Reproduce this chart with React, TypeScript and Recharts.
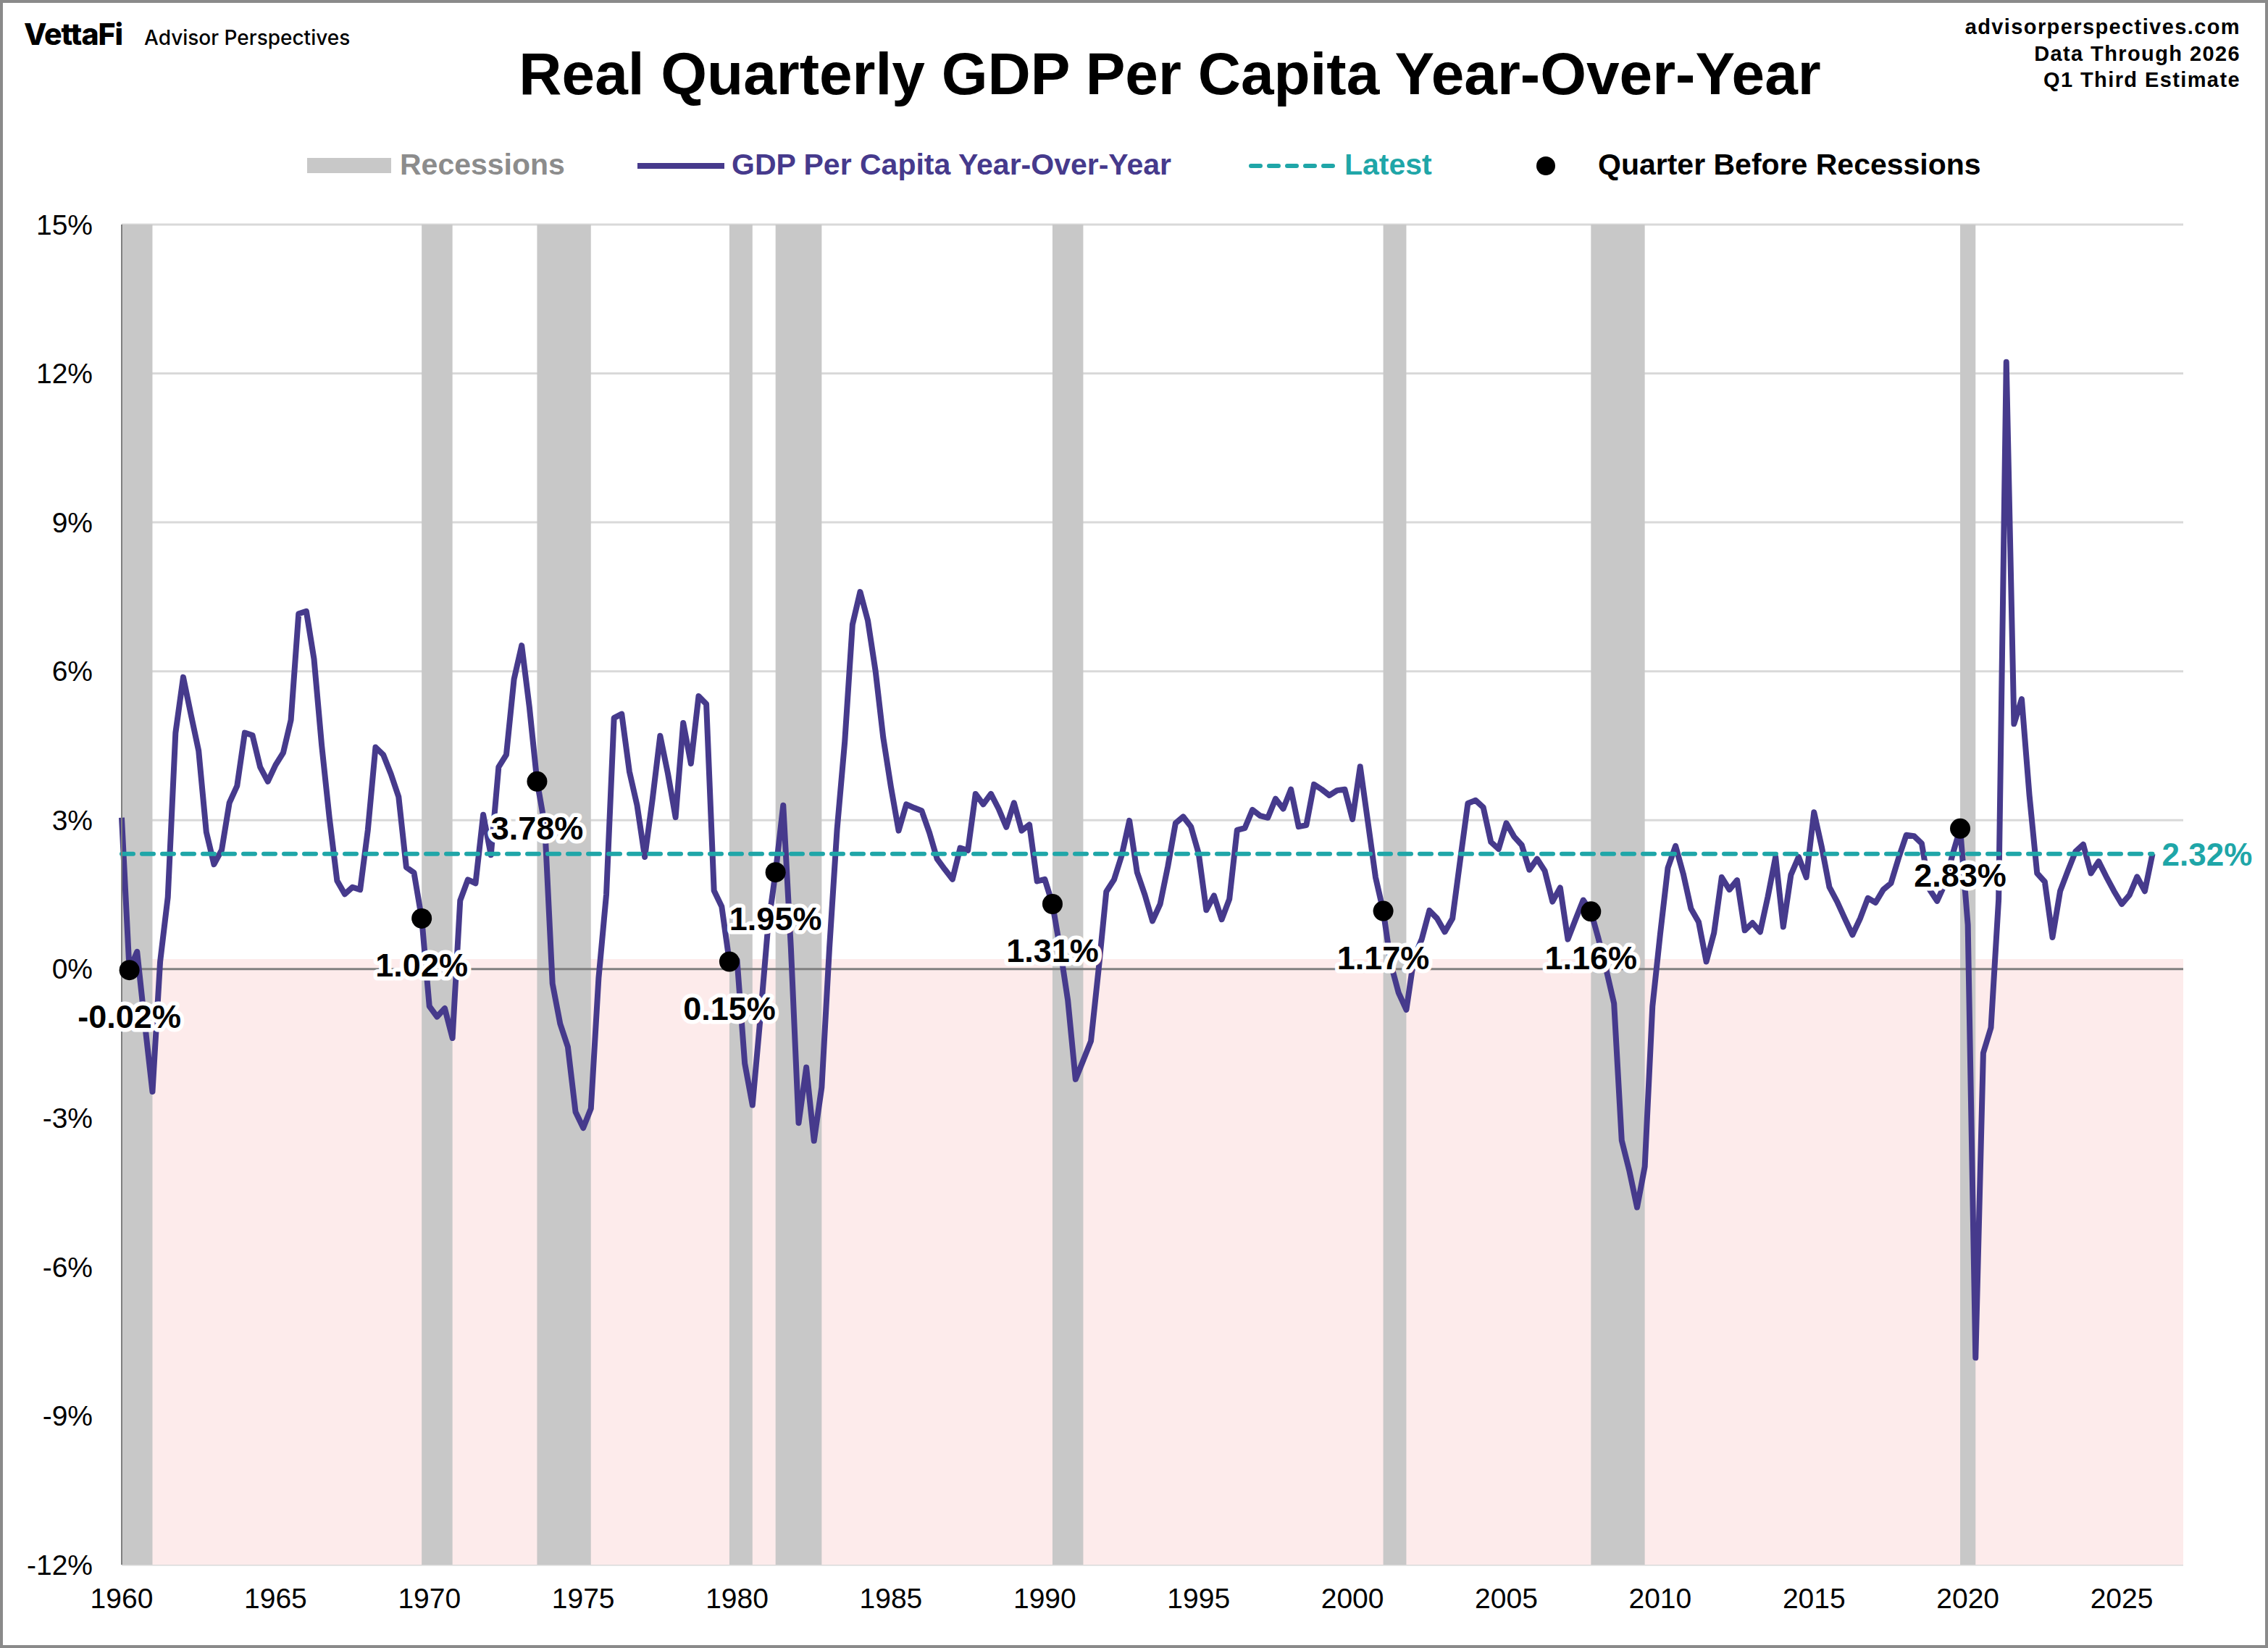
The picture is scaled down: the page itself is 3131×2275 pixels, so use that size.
import { ComposedChart, Line, Scatter, XAxis, YAxis, CartesianGrid, ReferenceArea, ReferenceLine } from 'recharts';

const FONT = '"Liberation Sans", Arial, sans-serif';
const PURPLE = '#463A8C';
const TEAL = '#1FA6A8';
const RECESSION_GRAY = '#C8C8C8';
const PINK = '#FDEBEB';
const GRID = '#D9D9D9';

// first quarter of the series (1960 Q1), one value per quarter
const FIRST_YEAR = 1960;

// real GDP per capita, % change year-over-year
const gdpPerCapitaYoY = [
  3.05, -0.02, 0.35, -1.09, -2.47, 0.15, 1.45, 4.76, // 1960-61
  5.88, 5.13, 4.4, 2.76, 2.11, 2.4, 3.35, 3.69, // 1962-63
  4.76, 4.71, 4.07, 3.78, 4.11, 4.36, 5.02, 7.16, // 1964-65
  7.21, 6.25, 4.51, 3.05, 1.78, 1.51, 1.65, 1.6, // 1966-67
  2.8, 4.47, 4.32, 3.93, 3.47, 2.05, 1.94, 1.02, // 1968-69
  -0.75, -0.96, -0.79, -1.39, 1.38, 1.8, 1.73, 3.11, // 1970-71
  2.3, 4.07, 4.32, 5.84, 6.52, 5.28, 3.78, 2.9, // 1972-73
  -0.29, -1.1, -1.57, -2.88, -3.2, -2.81, -0.18, 1.5, // 1974-75
  5.06, 5.14, 3.98, 3.3, 2.26, 3.42, 4.7, 3.94, // 1976-77
  3.06, 4.96, 4.14, 5.5, 5.34, 1.58, 1.26, 0.15, // 1978-79
  0.18, -1.9, -2.74, -1.02, 0.82, 1.95, 3.3, 0.42, // 1980-81
  -3.1, -1.98, -3.46, -2.38, 0.42, 2.82, 4.58, 6.94, // 1982-83
  7.6, 7.02, 6.0, 4.66, 3.67, 2.79, 3.32, 3.25, // 1984-85
  3.19, 2.75, 2.22, 2.01, 1.81, 2.44, 2.39, 3.53, // 1986-87
  3.32, 3.53, 3.23, 2.86, 3.35, 2.79, 2.91, 1.77, // 1988-89
  1.81, 1.31, 0.4, -0.63, -2.22, -1.84, -1.45, 0.0, // 1990-91
  1.56, 1.8, 2.29, 2.99, 1.95, 1.5, 0.97, 1.31, // 1992-93
  2.07, 2.94, 3.07, 2.87, 2.33, 1.19, 1.48, 1.0, // 1994-95
  1.41, 2.8, 2.84, 3.21, 3.09, 3.05, 3.43, 3.23, // 1996-97
  3.62, 2.87, 2.9, 3.72, 3.62, 3.5, 3.6, 3.62, // 1998-99
  3.02, 4.08, 2.97, 1.85, 1.17, 0.1, -0.48, -0.82, // 2000-01
  0.23, 0.6, 1.18, 1.02, 0.75, 1.02, 2.19, 3.34, // 2002-03
  3.4, 3.26, 2.56, 2.42, 2.94, 2.67, 2.5, 2.0, // 2004-05
  2.22, 1.98, 1.36, 1.64, 0.6, 1.0, 1.39, 1.16, // 2006-07
  0.6, -0.02, -0.69, -3.45, -4.07, -4.8, -3.98, -0.75, // 2008-09
  0.7, 2.04, 2.48, 1.92, 1.22, 0.95, 0.15, 0.73, // 2010-11
  1.85, 1.6, 1.79, 0.78, 0.93, 0.75, 1.46, 2.26, // 2012-13
  0.85, 1.9, 2.26, 1.85, 3.16, 2.46, 1.65, 1.36, // 2014-15
  1.02, 0.69, 1.02, 1.43, 1.34, 1.6, 1.73, 2.24, // 2016-17
  2.7, 2.68, 2.53, 1.61, 1.37, 1.71, 2.3, 2.83, // 2018-19
  0.89, -7.83, -1.69, -1.18, 1.4, 12.23, 4.94, 5.44, // 2020-21
  3.5, 1.93, 1.76, 0.64, 1.57, 1.98, 2.37, 2.51, // 2022-23
  1.93, 2.17, 1.86, 1.57, 1.31, 1.49, 1.86, 1.57, // 2024-25
  2.32, // 2026 Q1
];

// recession spans, in fractional years
const recessions = [
  { start: 1960.0, end: 1961.0 },
  { start: 1969.75, end: 1970.75 },
  { start: 1973.5, end: 1975.25 },
  { start: 1979.75, end: 1980.5 },
  { start: 1981.25, end: 1982.75 },
  { start: 1990.25, end: 1991.25 },
  { start: 2001.0, end: 2001.75 },
  { start: 2007.75, end: 2009.5 },
  { start: 2019.75, end: 2020.25 },
];

const quarterBeforeRecessions = [1960.25, 1969.75, 1973.5, 1979.75, 1981.25, 1990.25, 2001.0, 2007.75, 2019.75];

const yTicks = [-12, -9, -6, -3, 0, 3, 6, 9, 12, 15];
const xTicks = [1960, 1965, 1970, 1975, 1980, 1985, 1990, 1995, 2000, 2005, 2010, 2015, 2020, 2025];

const series = gdpPerCapitaYoY.map((y, i) => ({ x: FIRST_YEAR + i / 4, y }));
const latest = series[series.length - 1];
const latestLine = [
  { x: series[0].x, y: latest.y },
  { x: latest.x, y: latest.y },
];
const peaks = quarterBeforeRecessions.map((yr) => series[Math.round((yr - FIRST_YEAR) * 4)]);

const XTick = ({ x, y, payload }: any) => (
  <text x={x} y={y + 52} textAnchor="middle" fontSize={39} fill="#000" fontFamily={FONT}>
    {payload.value}
  </text>
);

const YTick = ({ x, y, payload }: any) => (
  <text x={x - 32} y={y} dy="0.35em" textAnchor="end" fontSize={39} fill="#000" fontFamily={FONT}>
    {`${payload.value}%`}
  </text>
);

const PeakDot = ({ cx, cy, payload }: any) => (
  <g>
    <circle cx={cx} cy={cy} r={14} fill="#000" />
    <text
      x={cx}
      y={cy + 80}
      textAnchor="middle"
      fontSize={45}
      fontWeight="bold"
      fill="#000"
      stroke="#fff"
      strokeWidth={11}
      strokeLinejoin="round"
      paintOrder="stroke"
      fontFamily={FONT}
    >
      {`${payload.y.toFixed(2)}%`}
    </text>
  </g>
);

const LatestLabel = (p: any) =>
  p.index === latestLine.length - 1 ? (
    <text key="latest-label" x={p.cx + 13} y={p.cy + 16} fontSize={44} fontWeight="bold" fill={TEAL} fontFamily={FONT}>
      {`${latest.y.toFixed(2)}%`}
    </text>
  ) : (
    <g key={`latest-${p.index}`} />
  );

const Header = () => (
  <svg width={3131} height={300} style={{ position: 'absolute', left: 0, top: 0 }}>
    <text x={33} y={62} fontSize={41} fontWeight={800} fontFamily="Inter, sans-serif" letterSpacing={-1}>
      VettaFi
    </text>
    <text x={199} y={62} fontSize={28} fontWeight={500} fontFamily="Inter, sans-serif">
      Advisor Perspectives
    </text>
    <text x={1615} y={130} textAnchor="middle" fontSize={82} fontWeight="bold" fontFamily={FONT}>
      Real Quarterly GDP Per Capita Year-Over-Year
    </text>
    <g fontSize={29} fontWeight="bold" fontFamily={FONT} textAnchor="end" letterSpacing={1.4}>
      <text x={3093} y={47}>advisorperspectives.com</text>
      <text x={3093} y={84}>Data Through 2026</text>
      <text x={3093} y={120}>Q1 Third Estimate</text>
    </g>

    {/* legend */}
    <g fontSize={41} fontWeight="bold" fontFamily={FONT}>
      <rect x={424} y={218} width={116} height={21} fill={RECESSION_GRAY} />
      <text x={552} y={241} fill="#8C8C8C">Recessions</text>
      <line x1={880} x2={1000} y1={229} y2={229} stroke={PURPLE} strokeWidth={8} />
      <text x={1010} y={241} fill={PURPLE}>GDP Per Capita Year-Over-Year</text>
      <line x1={1727} x2={1842} y1={229} y2={229} stroke={TEAL} strokeWidth={6} strokeDasharray="13 12" strokeLinecap="round" />
      <text x={1856} y={241} fill={TEAL}>Latest</text>
      <circle cx={2134} cy={229} r={13} fill="#000" />
      <text x={2206} y={241} fill="#000">Quarter Before Recessions</text>
    </g>
  </svg>
);

export default function App() {
  return (
    <div style={{ position: 'absolute', left: 0, top: 0, width: 3131, height: 2275, background: '#fff', overflow: 'hidden' }}>
      <ComposedChart width={3131} height={2275} data={series} margin={{ top: 310, right: 117, bottom: 0, left: 0 }}>
        <ReferenceArea y1={-12} y2={0.2} fill={PINK} fillOpacity={1} stroke="none" />
        <CartesianGrid vertical={false} stroke={GRID} strokeWidth={3} />
        <ReferenceLine y={0} stroke="#808080" strokeWidth={3} />
        {recessions.map((r) => (
          <ReferenceArea key={r.start} x1={r.start} x2={r.end} y1={-12} y2={15} fill={RECESSION_GRAY} fillOpacity={1} stroke="none" />
        ))}
        <XAxis
          type="number"
          dataKey="x"
          domain={[1960, 2027]}
          ticks={xTicks}
          tickLine={false}
          axisLine={false}
          height={115}
          tick={XTick}
        />
        <YAxis
          type="number"
          domain={[-12, 15]}
          ticks={yTicks}
          width={168}
          tickLine={false}
          axisLine={{ stroke: '#7F7F7F', strokeWidth: 2 }}
          tick={YTick}
        />
        <Line
          type="linear"
          dataKey="y"
          stroke={PURPLE}
          strokeWidth={8}
          strokeLinejoin="round"
          dot={false}
          activeDot={false}
          isAnimationActive={false}
        />
        <Line
          data={latestLine}
          type="linear"
          dataKey="y"
          stroke={TEAL}
          strokeWidth={6}
          strokeDasharray="16 12"
          strokeLinecap="round"
          dot={LatestLabel}
          activeDot={false}
          isAnimationActive={false}
        />
        <Scatter data={peaks} dataKey="y" shape={PeakDot} isAnimationActive={false} />
      </ComposedChart>
      <Header />
      <div
        style={{
          position: 'absolute',
          inset: 0,
          border: '4px solid #8A8A8A',
          boxSizing: 'border-box',
          pointerEvents: 'none',
        }}
      />
    </div>
  );
}
